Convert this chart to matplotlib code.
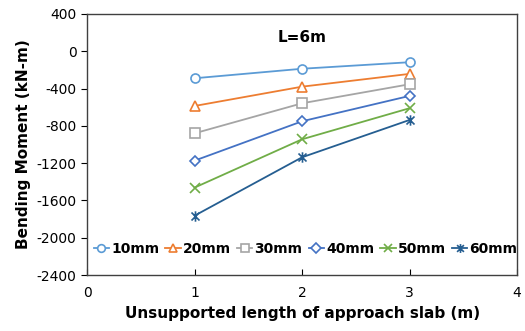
import matplotlib.pyplot as plt
from matplotlib.path import Path

plt.rcParams["axes.unicode_minus"] = False

# unsupported length (m) and bending moment (kN-m) for each gap size
lengths = [1, 2, 3]
m_10mm = [-290, -188, -118]
m_20mm = [-587, -380, -243]
m_30mm = [-880, -558, -354]
m_40mm = [-1173, -751, -479]
m_50mm = [-1462, -944, -611]
m_60mm = [-1763, -1137, -737]

labels = ["10mm", "20mm", "30mm", "40mm", "50mm", "60mm"]
colors = ["#5B9BD5", "#ED7D31", "#A5A5A5", "#4472C4", "#70AD47", "#255E91"]

# asterisk marker: an x with a vertical stroke through it
asterisk = Path(
    [(-1, -1), (1, 1), (-1, 1), (1, -1), (0, -1.3), (0, 1.3)],
    [Path.MOVETO, Path.LINETO, Path.MOVETO, Path.LINETO, Path.MOVETO, Path.LINETO],
)
markers = ["o", "^", "s", "D", "x", asterisk]
sizes = [6.5, 6.5, 6.5, 5.5, 6.5, 7.5]
open_marker = [True, True, True, True, False, False]

fig = plt.figure(figsize=(5.25, 3.31), dpi=100)
ax = fig.add_axes([0.166, 0.169, 0.819, 0.789])

series = [m_10mm, m_20mm, m_30mm, m_40mm, m_50mm, m_60mm]
for vals, lab, c, mk, ms, op in zip(series, labels, colors, markers, sizes, open_marker):
    ax.plot(lengths, vals, color=c, marker=mk, markersize=ms,
            markerfacecolor="white" if op else c,
            markeredgecolor=c, markeredgewidth=1.2, linewidth=1.3, label=lab)

ax.set_xlim(0, 4)
ax.set_ylim(-2400, 400)
ax.set_xticks([0, 1, 2, 3, 4])
ax.set_yticks(range(-2400, 401, 400))
ax.tick_params(axis="x", direction="in", length=4, labelsize=10, pad=8)
ax.tick_params(axis="y", direction="out", length=4, labelsize=10)
for s in ax.spines.values():
    s.set_color("#404040")
    s.set_linewidth(1.0)

ax.set_xlabel("Unsupported length of approach slab (m)", fontsize=11, fontweight="bold")
ax.set_ylabel("Bending Moment (kN-m)", fontsize=11, fontweight="bold")
ax.text(0.5, 0.91, "L=6m", transform=ax.transAxes, ha="center", va="center",
        fontsize=11, fontweight="bold")

leg = ax.legend(loc="center", bbox_to_anchor=(0.508, 0.1), ncol=6, frameon=False,
                handlelength=1.1, handletextpad=0.15, columnspacing=0.45,
                prop={"weight": "bold", "size": 10}, markerscale=0.85)

fig.savefig("out.png", dpi=100)
